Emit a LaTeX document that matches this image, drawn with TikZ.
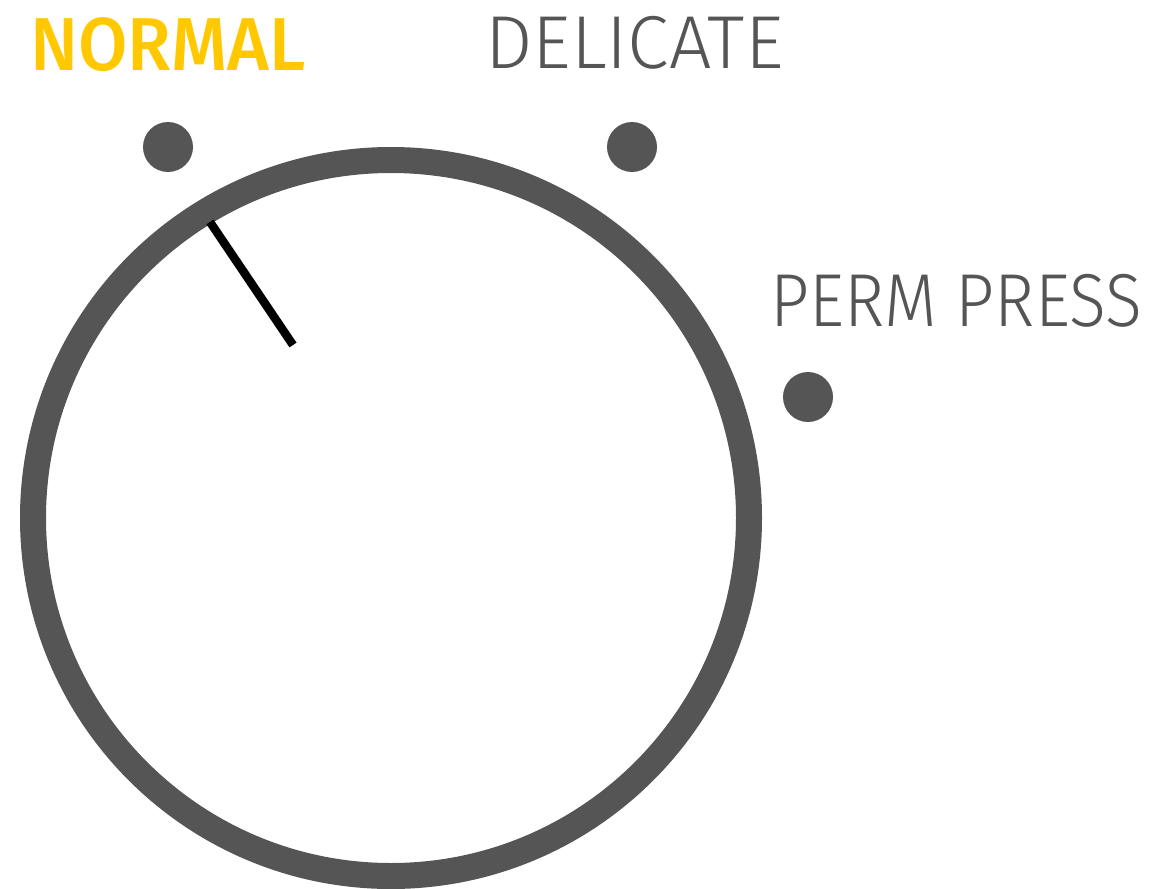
\documentclass[tikz,border=0pt]{standalone}
\usepackage{fontspec}
\setmainfont{Fira Sans}
\newfontfamily\firalight{Fira Sans Light}
\newfontfamily\firamedium{Fira Sans Medium}
\definecolor{dialgrey}{HTML}{555555}
\definecolor{dialyellow}{HTML}{FFC800}
\begin{document}
\begin{tikzpicture}[x=1pt,y=-1pt,
  ring/.style={draw=dialgrey,line width=26pt},
  knobdot/.style={circle,fill=dialgrey,inner sep=0pt,minimum size=50pt},
  needle/.style={draw=black,line width=8.5pt},
  label/.style={inner sep=0pt,anchor=base west,font=\fontsize{75}{80}\selectfont\firamedium},
  lightlabel/.style={label,text=dialgrey,font=\fontsize{75}{80}\selectfont\firalight}]
\useasboundingbox (0,0) rectangle (1157,889);
\coordinate (c) at (391,518);
\draw[ring] (c) circle (358);
\node[knobdot] (d1) at (168,147) {};
\node[knobdot] (d2) at (632,147) {};
\node[knobdot] (d3) at (808,397) {};
\coordinate (n1) at (210,222);
\coordinate (n2) at (293,345);
\draw[needle] (n1) -- (n2);
\node[label,text=dialyellow] (normal) at (30,70) {\scalebox{0.955}[1]{NORMAL}};
\node[lightlabel] (delicate) at (485,68) {DELICATE};
\node[lightlabel] (perm) at (770,326) {\scalebox{0.91}[1]{PERM PRESS}};
\end{tikzpicture}
\end{document}
